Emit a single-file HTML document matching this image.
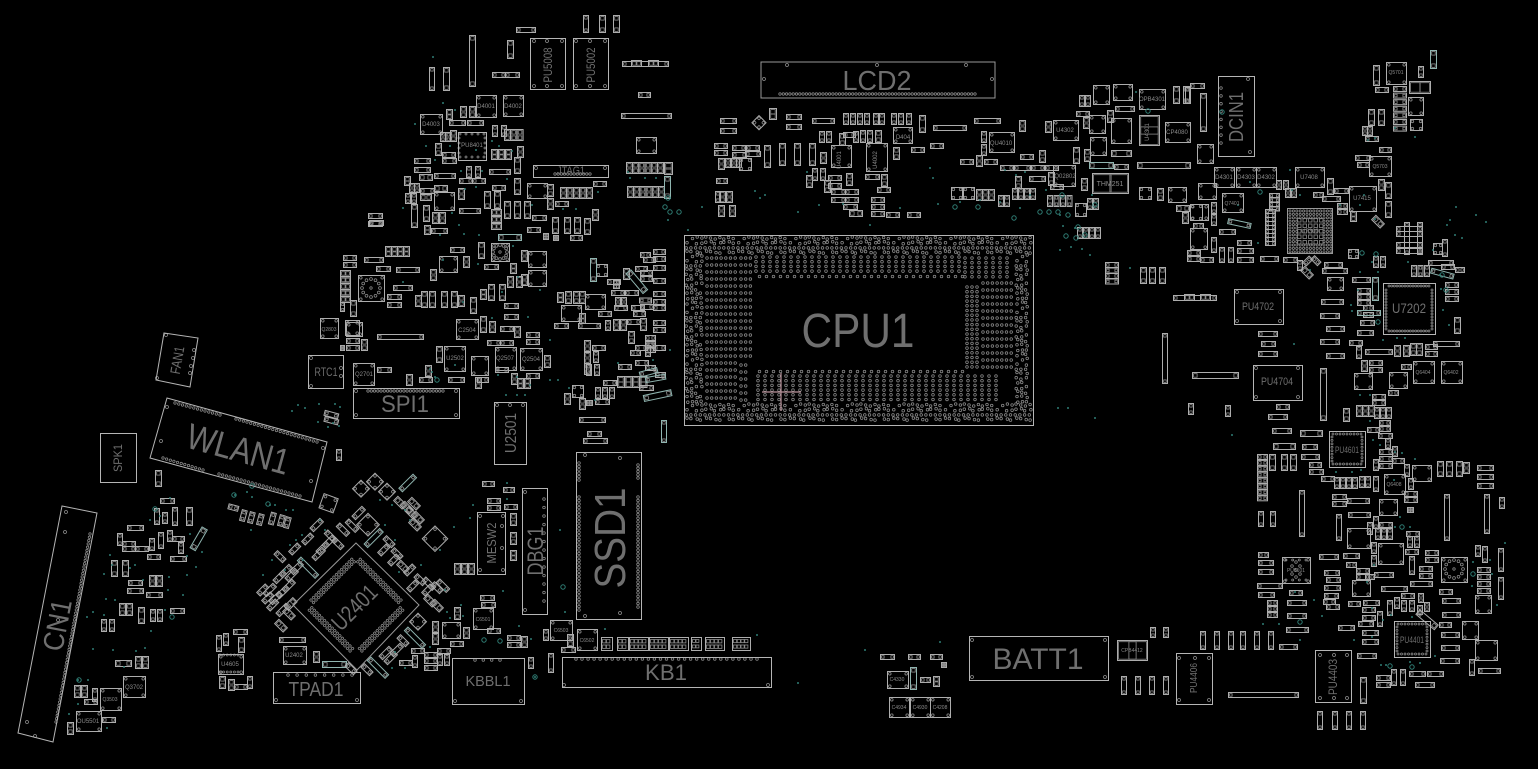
<!DOCTYPE html>
<html><head><meta charset="utf-8"><title>Board view</title>
<style>
html,body{margin:0;padding:0;background:#000;width:1538px;height:769px;overflow:hidden}
svg{display:block}
text{font-family:"Liberation Sans",sans-serif;fill:#6f6f6f;text-anchor:middle}
.s{fill:#8a8a8a}
</style></head><body>
<svg id="b" xmlns="http://www.w3.org/2000/svg" width="1538" height="769" viewBox="0 0 1538 769">
<g id="art"></g>
<g fill="none" stroke="#b5b5b5">
<rect x="684.5" y="235.5" width="349" height="190"/>
<rect x="761" y="62" width="234" height="36" stroke="#999"/>
<rect x="353.5" y="388.5" width="106" height="30"/>
<rect x="576.5" y="452.5" width="65" height="167"/>
<rect x="494.5" y="402.5" width="32" height="62"/>
<rect x="522.5" y="488.5" width="25" height="126"/>
<rect x="477.5" y="512.5" width="28" height="62"/>
<rect x="562.5" y="657.5" width="209" height="30"/>
<rect x="452.5" y="658.5" width="72" height="46"/>
<rect x="273.5" y="672.5" width="87" height="31"/>
<rect x="969.5" y="636.5" width="139" height="44"/>
<rect x="308.5" y="355.5" width="35" height="33"/>
<rect x="100.5" y="433.5" width="36" height="49"/>
<rect x="1218.5" y="76.5" width="36" height="80"/>
<rect x="530.5" y="38.5" width="35" height="51"/>
<rect x="573.5" y="38.5" width="35" height="51"/>
<rect x="533.5" y="165.5" width="75" height="12"/>
<rect x="458.5" y="132.5" width="28" height="28"/>
<rect x="1383.5" y="283.5" width="52" height="51"/>
<rect x="1234.5" y="289.5" width="49" height="35"/>
<rect x="1253.5" y="365.5" width="49" height="35"/>
<rect x="1329.5" y="431.5" width="36" height="36"/>
<rect x="1394.5" y="621.5" width="36" height="36"/>
<rect x="1315.5" y="650.5" width="36" height="52"/>
<rect x="1176.5" y="653.5" width="36" height="51"/>
<polygon points="167,398 327,442 312,502 150,458"/>
<polygon points="164,333 198,338 190,387 156,380"/>
<polygon points="62,506 97,513 53,742 18,733"/>
<polygon points="356,543 419,605 357,670 293,605" stroke="#999"/>
</g>
<path d="M762 392H801M781 373V411" stroke="#b9939b" stroke-width="1.2"/>
<g id="over"></g>
<text x="858" y="347" font-size="48" textLength="113" lengthAdjust="spacingAndGlyphs">CPU1</text>
<text x="877" y="90" font-size="28" textLength="69" lengthAdjust="spacingAndGlyphs">LCD2</text>
<text x="405" y="412" font-size="24" textLength="48" lengthAdjust="spacingAndGlyphs">SPI1</text>
<text x="666" y="680" font-size="22" textLength="42" lengthAdjust="spacingAndGlyphs">KB1</text>
<text x="488" y="686" font-size="15" textLength="45" lengthAdjust="spacingAndGlyphs">KBBL1</text>
<text x="316" y="696" font-size="20" textLength="55" lengthAdjust="spacingAndGlyphs">TPAD1</text>
<text x="1038" y="669" font-size="30" textLength="91" lengthAdjust="spacingAndGlyphs">BATT1</text>
<text x="326" y="376" font-size="12" textLength="23" lengthAdjust="spacingAndGlyphs">RTC1</text>
<text transform="translate(1243,117) rotate(-90)" font-size="20" textLength="50" lengthAdjust="spacingAndGlyphs">DCIN1</text>
<text transform="translate(625,538) rotate(-90)" font-size="44" textLength="101" lengthAdjust="spacingAndGlyphs">SSD1</text>
<text transform="translate(516,433) rotate(-90)" font-size="16" textLength="40" lengthAdjust="spacingAndGlyphs">U2501</text>
<text transform="translate(543,551) rotate(-90)" font-size="22" textLength="49" lengthAdjust="spacingAndGlyphs">DBG1</text>
<text transform="translate(496,543) rotate(-90)" font-size="13" textLength="41" lengthAdjust="spacingAndGlyphs">MESW2</text>
<text transform="translate(122,458) rotate(-90)" font-size="12" textLength="28" lengthAdjust="spacingAndGlyphs">SPK1</text>
<text transform="translate(182,361) rotate(-80)" font-size="14" textLength="28" lengthAdjust="spacingAndGlyphs">FAN1</text>
<text transform="translate(235,461) rotate(15.5)" font-size="36" textLength="105" lengthAdjust="spacingAndGlyphs">WLAN1</text>
<text transform="translate(67,627) rotate(-79)" font-size="29" textLength="52" lengthAdjust="spacingAndGlyphs">CN1</text>
<text transform="translate(360,613) rotate(-45)" font-size="23" textLength="54" lengthAdjust="spacingAndGlyphs">U2401</text>
<text transform="translate(552,65) rotate(-90)" font-size="12" textLength="35" lengthAdjust="spacingAndGlyphs">PU5008</text>
<text transform="translate(595,65) rotate(-90)" font-size="12" textLength="35" lengthAdjust="spacingAndGlyphs">PU5002</text>
<text transform="translate(1337,677) rotate(-90)" font-size="12" textLength="36" lengthAdjust="spacingAndGlyphs">PU4403</text>
<text transform="translate(1197,678) rotate(-90)" font-size="10" textLength="30" lengthAdjust="spacingAndGlyphs">PU4406</text>
<text x="571" y="174" font-size="11" textLength="28" lengthAdjust="spacingAndGlyphs">JTAG1</text>
<text x="1409" y="313" font-size="14" textLength="34" lengthAdjust="spacingAndGlyphs">U7202</text>
<text x="1258" y="310" font-size="11" textLength="32" lengthAdjust="spacingAndGlyphs">PU4702</text>
<text x="1277" y="385" font-size="11" textLength="32" lengthAdjust="spacingAndGlyphs">PU4704</text>
<text x="1347" y="453" font-size="9" textLength="24" lengthAdjust="spacingAndGlyphs">PU4601</text>
<text x="1412" y="643" font-size="9" textLength="24" lengthAdjust="spacingAndGlyphs">PU4401</text>
<g class="t">
<text class="s" x="486" y="108" font-size="6">D4001</text>
<text class="s" x="513" y="108" font-size="6">D4002</text>
<text class="s" x="431" y="126" font-size="6">D4003</text>
<text class="s" x="472" y="147" font-size="6">PU8401</text>
<text class="s" x="467" y="332" font-size="6">C2504</text>
<text class="s" x="455" y="360" font-size="6">U2502</text>
<text class="s" x="505" y="360" font-size="6">Q2507</text>
<text class="s" x="531" y="361" font-size="6">Q2504</text>
<text class="s" x="364" y="376" font-size="6">Q2701</text>
<text class="s" x="329" y="331" font-size="5">Q2803</text>
<text class="s" x="294" y="657" font-size="6">U2402</text>
<text class="s" x="230" y="666" font-size="6">U4605</text>
<text class="s" x="483" y="621" font-size="5">C6501</text>
<text class="s" x="134" y="689" font-size="6">Q3702</text>
<text class="s" x="110" y="701" font-size="5">Q3503</text>
<text class="s" x="88" y="723" font-size="6">OU5501</text>
<text class="s" x="561" y="632" font-size="5">C6503</text>
<text class="s" x="587" y="642" font-size="5">C6502</text>
<text class="s" x="903" y="139" font-size="6">D404</text>
<text class="s" x="1001" y="145" font-size="6">QU4010</text>
<text class="s" x="1065" y="178" font-size="6">Q02802</text>
<text class="s" x="1110" y="186" font-size="7">THM251</text>
<text class="s" x="1065" y="132" font-size="6">U4302</text>
<text class="s" x="1152" y="101" font-size="6">OPB4301</text>
<text class="s" x="1177" y="134" font-size="6">CP4080</text>
<text class="s" x="1224" y="179" font-size="6">D4301</text>
<text class="s" x="1246" y="179" font-size="6">D4303</text>
<text class="s" x="1266" y="179" font-size="6">D4302</text>
<text class="s" x="1309" y="179" font-size="6">U7408</text>
<text class="s" x="1362" y="200" font-size="6">U7415</text>
<text class="s" x="1232" y="205" font-size="5">Q7401</text>
<text class="s" x="1310" y="233" font-size="6">U7300</text>
<text class="s" x="1380" y="168" font-size="5">Q5703</text>
<text class="s" x="1396" y="74" font-size="5">Q5701</text>
<text class="s" x="1423" y="374" font-size="5">Q6404</text>
<text class="s" x="1451" y="374" font-size="5">Q6402</text>
<text class="s" x="1394" y="486" font-size="5">Q6408</text>
<text class="s" x="1296" y="572" font-size="5">PU5101</text>
<text class="s" x="1132" y="652" font-size="5">CPB4412</text>
<text class="s" x="897" y="681" font-size="5">C4330</text>
<text class="s" x="899" y="709" font-size="5">C4934</text>
<text class="s" x="920" y="709" font-size="5">C4930</text>
<text class="s" x="940" y="709" font-size="5">C4208</text>
<text class="s" x="841" y="160" font-size="6" transform="rotate(-90 841 160)">U4001</text>
<text class="s" x="877" y="160" font-size="6" transform="rotate(-90 877 160)">U4002</text>
<text class="s" x="1149" y="132" font-size="6" transform="rotate(-90 1149 132)">U4301</text>
</g>
</svg>
<script>
var A=document.getElementById('art'),S='';
var G='#adadad';
function pad(x,y,s,c){return '<rect x="'+x+'" y="'+y+'" width="'+s+'" height="'+s+'" fill="none" stroke="'+c+'" stroke-width=".8"/>'}
function hole(x,y,c,r){return '<circle cx="'+x+'" cy="'+y+'" r="'+(r||1.3)+'" fill="none" stroke="'+c+'" stroke-width=".8"/>'}
function part(x,y,w,h,c){
 c=c||G;var o='<rect x="'+(x+.5)+'" y="'+(y+.5)+'" width="'+w+'" height="'+h+'" fill="none" stroke="'+c+'"/>';
 var cp='#8d8d8d';
 if(w>=h*1.5){var s=Math.max(h-2.5,2);o+=pad(x+1.6,y+1.7,s,cp)+pad(x+w-s-.6,y+1.7,s,cp)}
 else if(h>=w*1.5){var s=Math.max(w-2.5,2);o+=pad(x+1.7,y+1.6,s,cp)+pad(x+1.7,y+h-s-.6,s,cp)}
 else{var k=w>=14?2.8:2.4;o+=hole(x+k,y+k,cp)+hole(x+w-k+1,y+k,cp)+hole(x+k,y+h-k+1,cp)+hole(x+w-k+1,y+h-k+1,cp)}
 return o}
function L(s,c){s.trim().split(/\s+/).forEach(function(i){var a=i.split(',').map(Number),n=a[4]||1;for(var k=0;k<n;k++)S+=part(a[0]+k*(a[5]||0),a[1]+k*(a[6]||0),a[2],a[3],c)})}
function R(s,c){s.trim().split(/\s+/).forEach(function(i){var a=i.split(',').map(Number);S+='<g transform="translate('+a[0]+','+a[1]+') rotate('+a[4]+')">'+part(-a[2]/2,-a[3]/2,a[2],a[3],c)+'</g>'})}
function D(s){s.trim().split(/\s+/).forEach(function(i){var a=i.split(',');S+='<circle cx="'+a[0]+'" cy="'+a[1]+'" r="1" fill="#2f7d74"/>'})}
function Ring(s){s.trim().split(/\s+/).forEach(function(i){var a=i.split(',');S+='<circle cx="'+a[0]+'" cy="'+a[1]+'" r="2.2" fill="none" stroke="#2f7d74"/>'})}
function dot(x,y,r,c){S+='<circle cx="'+x.toFixed(1)+'" cy="'+y.toFixed(1)+'" r="'+(r||1.3)+'" fill="none" stroke="'+(c||'#8f8f8f')+'" stroke-width=".75"/>'}
function row(x0,y0,x1,y1,n,r){for(var i=0;i<n;i++)dot(x0+(x1-x0)*i/(n-1),y0+(y1-y0)*i/(n-1),r)}
/* CPU BGA */
var i,j,x,y;
function h(a,b){return (a*73+b*151+a*b*7)%11}
function band(x0,x1,y0,y1){for(var a=0,yy=y0;yy<=y1;yy+=4.7,a++)for(var b=0,xx=x0;xx<=x1;xx+=4.7,b++){var q=h(a,b);if(q==0)continue;dot(xx+(q%3-1)*.8,yy+(q%5-2)*.5)}}
band(687,1031,238,253);band(687,1031,405,422);band(687,703,256,403);band(1017,1031,256,403);
for(y=258;y<=400;y+=7)for(x=707;x<=737;x+=4.7)dot(x,y);
for(y=286;y<=358;y+=7)for(x=741;x<=755;x+=4.7)dot(x,y);
for(y=365;y<=400;y+=7)for(x=741;x<=748;x+=4.7)dot(x,y);
for(y=258;y<=282;y+=7)for(x=741;x<=751;x+=4.7)dot(x,y);
for(x=756;x<=960;x+=7)for(y=257;y<=272;y+=4.7)dot(x,y);
for(x=756;x<=960;x+=7)dot(x+3.5,276.5);
for(x=756;x<=960;x+=7)dot(x+3.5,371.5);
for(x=758;x<=1000;x+=7)for(y=376;y<=401;y+=4.7)dot(x,y);
for(y=287;y<=368;y+=4.7){dot(967,y);dot(972,y);dot(977,y)}
for(y=283;y<=372;y+=7)for(x=983;x<=1013;x+=4.7)dot(x,y);
for(x=965;x<=1010;x+=7)for(y=258;y<=278;y+=4.7)dot(x,y);
/* U7300 BGA */
S+='<rect x="1287.5" y="208.5" width="45" height="45" fill="none" stroke="#999"/>';
for(x=1290;x<=1331;x+=3.4)for(y=211;y<=252;y+=3.4){var e=Math.min(x-1287,1333-x,y-208,254-y);if(e<11)dot(x,y,1.1)}
for(x=1299;x<=1322;x+=5.5)for(y=220;y<=243;y+=5.5)S+=pad(x-1.5,y-1.5,3.5,'#8d8d8d');
/* U2401 */
S+='<g transform="translate(356,606) rotate(45)">';
for(var t=-30;t<=30;t+=3.6){[[t,-36],[t,-32.5],[t,32.5],[t,36],[-36,t],[-32.5,t],[32.5,t],[36,t]].forEach(function(p){dot(p[0],p[1],1.2)})}
S+='</g>';
/* connector pads */
row(780,94,975,94,60,1.2);row(368,391,443,391,24,1.2);
row(175,403,220,415,13,1.2);row(236,419,317,442,23,1.2);row(163,458,203,470,12,1.2);row(219,474,300,496,23,1.2);
row(90,534,56,722,58,1.2);
row(576,659,757,659,31);row(475,660,500,660,4);row(288,675,352,675,8);
row(1221,88,1221,143,8);
row(579,463,579,480,6);row(579,497,579,610,33);row(638,465,638,478,5);row(638,497,638,607,32);
row(544,499,544,601,13);
row(555,174,590,174,12,1.2);
row(1286,560,1306,560,4,1);row(1286,580,1306,580,4,1);
[[1292,566],[1300,566],[1296,562],[1292,574],[1300,574],[1296,577],[1296,570]].forEach(function(p){dot(p[0],p[1],1.3)});
[[787,65],[877,65],[966,65],[764,79],[992,79],[356,391],[456,391],[356,415],[456,415],[497,405],[510,405],[523,405],[276,700],[357,700],[455,701],[521,701],[564,685],[768,685],[972,677],[1105,677],[972,640],[1105,640],[1248,79],[1250,152],[534,41],[547,41],[562,41],[576,41],[590,41],[605,41],[534,86],[547,86],[562,86],[576,86],[590,86],[605,86],[536,168],[605,168],[480,516],[503,516],[480,570],[503,570],[502,526],[502,548],[525,492],[525,610],[585,455],[620,458],[585,616],[620,613],[166,335],[157,378],[194,350],[193,358],[191,366],[190,373],[66,512],[27,722],[58,620],[65,532],[35,736],[167,407],[161,441],[323,448],[311,481],[311,358],[311,386],[341,368],[341,376],[1320,655],[1334,655],[1347,655],[1320,698],[1334,698],[1347,698],[1179,658],[1195,658],[1209,658],[1179,700],[1209,700],[1237,292],[1280,292],[1237,321],[1280,321],[1256,368],[1298,368],[1256,397],[1298,397]].forEach(function(p){dot(p[0],p[1],1.5)});
/* IC edge pins */
row(1389,286,1429,286,16,1);row(1389,331,1429,331,16,1);row(1386,290,1386,329,14,1);row(1432,290,1432,329,14,1);
row(1333,434,1361,434,9,1);row(1333,464,1361,464,9,1);row(1332,437,1332,461,8,1);row(1362,437,1362,461,8,1);
row(1398,624,1426,624,9,1);row(1398,654,1426,654,9,1);row(1397,627,1397,651,8,1);row(1427,627,1427,651,8,1);
row(460,134,484,134,5,1);row(460,157,484,157,5,1);row(459,138,459,153,4,1);row(485,138,485,153,4,1);
row(220,655,238,655,6,1);row(220,672,238,672,6,1);
/* keyboard row blocks */
[[601,11,2],[617,11,2],[629,19,4],[649,19,4],[669,19,4],[691,10,2],[705,19,4],[732,18,4]].forEach(function(b){
 S+='<rect x="'+(b[0]+.5)+'" y="637.5" width="'+b[1]+'" height="13" fill="none" stroke="#adadad"/>';
 for(var k=0;k<b[2];k++){var px=b[0]+1.5+k*(b[1]-3)/b[2];var sz=(b[1]-3)/b[2]-.6;S+=pad(px,639.5,sz,'#8d8d8d')+pad(px,645,sz,'#8d8d8d')}
});
/* parts */
L(`516,27,19,5 583,15,5,17 599,15,6,17 613,15,6,17 429,67,5,23 443,67,6,23 469,35,6,51 507,40,6,18 492,72,13,5 505,72,14,5 622,61,46,5 631,60,10,6 648,60,10,6 638,92,12,5 621,113,50,5
476,95,20,22 503,95,20,21 420,114,22,20 446,109,6,10 460,106,6,11 469,106,6,11 449,120,16,5 467,120,16,5 440,132,5,9,2,5.5,0 450,130,6,11 435,143,6,12 414,158,16,5 414,167,16,5 419,174,13,6 442,152,13,5 442,158,14,5 434,173,21,5 404,176,6,9 409,183,5,9,2,5,0 420,188,14,5 420,194,11,6 434,185,13,6 405,193,5,10,2,6,0 434,192,20,18 458,188,6,11 423,205,6,16 411,204,6,23 432,212,6,11 439,212,6,11 424,225,6,9 431,228,16,5 459,208,21,5 466,166,5,11 475,166,5,11 459,178,13,5 472,178,13,5 489,169,21,5 492,185,13,5 484,191,6,17 494,191,6,17 491,209,10,6,3,0,7 504,201,6,17 514,201,6,17 524,201,6,17 514,157,6,16 514,178,6,16 517,146,6,11 492,125,5,11 501,125,5,11 504,129,6,11,3,6.3,0 491,149,6,10,3,7,0 527,183,20,15 547,184,6,12 547,198,6,11 555,201,13,5 560,187,6,11,5,6.5,0 593,181,13,5 592,209,6,11 532,215,14,5 552,217,6,16 564,217,6,16 574,217,6,16 584,218,6,16 527,227,13,5 543,233,5,6 553,235,5,5 570,235,12,5 636,137,20,16 626,162,6,11,6,6.2,0 627,186,6,11,6,6.2,0 664,162,8,12 368,213,14,5 368,221,14,5
369,220,14,5 343,255,13,5 343,262,13,5 364,257,19,5 376,266,14,5 396,267,23,5 385,246,6,10,4,6,0 340,270,10,6,5,0,6.5 358,275,26,26 393,285,19,5 387,294,14,5 387,302,14,5 415,295,6,11 421,291,6,16 429,291,6,16 441,291,6,16 451,291,6,16 458,295,6,11 350,300,6,16 340,302,4,9 430,269,6,11 450,247,14,5 439,256,18,16 463,256,6,11 478,242,6,16 491,243,18,18 484,264,14,5 510,263,6,10 521,250,6,11 528,251,18,16 528,270,18,16 521,274,6,11 507,276,6,11 516,276,6,11 480,289,6,10 488,284,6,16 499,284,6,16 504,303,14,5 504,314,14,5 470,297,6,16 456,319,22,20 480,316,6,16 489,321,6,11 500,326,13,5 514,326,6,11 526,332,13,5 526,339,13,5 487,340,13,5 500,340,13,5 377,334,46,5 346,322,16,14 346,338,13,5 346,345,13,5 361,339,6,11 340,345,4,5 353,363,21,22 377,367,14,5 436,346,6,16 444,346,21,25 425,365,6,11 406,374,6,11 419,377,13,5 448,377,16,5 471,356,17,19 495,347,21,23 520,348,22,22 544,355,6,12 495,367,13,5 475,377,6,11 477,377,11,5 511,373,6,11 517,378,6,10 524,378,6,10 526,373,13,5 557,292,6,10 565,291,6,12 573,291,6,12 579,291,6,12 585,294,20,15 561,305,20,16 554,323,14,5 579,313,6,10 578,323,22,5 320,318,18,20 345,320,14,15
653,249,12,5 653,256,12,5 653,265,12,5 653,278,12,5 653,291,12,5 653,299,12,5 653,305,12,5 653,320,12,5 653,327,12,5 640,252,10,5 643,257,12,5 635,266,12,5 640,270,12,5 640,276,12,5 596,264,11,12 607,279,13,5 613,280,6,8 623,268,6,11 611,290,13,5 625,290,13,5 615,297,5,9 621,297,5,9 614,305,13,5 631,305,13,5 640,304,13,5 633,311,12,5 598,311,13,5 605,320,5,10 613,319,6,11 620,319,6,11 627,319,13,5 640,318,6,12 628,331,6,12 645,335,10,5,3,0,6 635,345,12,5 630,350,10,5 645,345,5,11 653,345,12,5 584,340,6,11 584,352,6,11 584,363,6,11 592,345,13,5 593,351,5,11 586,364,5,11 594,364,5,11 618,364,13,5 635,360,13,5 617,376,7,11,4,7.5,0 603,380,13,5 595,387,5,11,3,7,0 595,399,14,5 572,385,11,12 564,393,6,11 579,398,6,11 586,400,6,5 579,417,26,5 587,431,14,5 583,438,24,5 639,385,14,5 645,365,10,5 655,372,10,5
769,108,7,11 720,118,16,5 720,128,16,5 786,114,15,5 786,124,15,5 812,118,22,5 843,113,5,11 850,113,5,11 857,113,5,11 864,113,5,11 873,113,5,11 879,113,5,11 891,113,5,11 898,113,5,11 906,113,5,11 919,115,6,17 933,125,33,5 974,118,26,5 1019,120,6,11 714,143,13,5 714,150,13,5 732,145,13,5 746,145,13,5 732,152,14,5 745,151,15,5 718,158,6,11 725,158,5,9 731,158,5,9 736,158,5,9 739,158,12,12 764,145,6,22 779,143,6,22 794,143,6,22 809,143,6,22 820,152,6,11 819,131,5,11 826,131,5,11 839,133,6,12 843,132,12,5 853,131,5,11 860,130,5,12 867,130,5,12 875,130,6,12 893,127,19,16 831,145,20,22 866,143,21,28 893,147,6,12 911,147,13,5 930,143,13,5 812,168,5,12 806,175,6,12 820,168,5,12 824,180,6,12 828,175,13,5 828,183,13,5 846,173,6,12 831,189,14,5 845,189,13,5 831,197,14,5 845,197,13,5 843,204,14,5 849,210,13,6 865,174,14,5 881,174,6,12 877,187,13,5 871,197,13,5 871,204,13,5 871,211,13,5 886,212,13,5 907,212,13,5 716,178,11,5 719,191,6,11 726,191,6,11 715,191,5,11 718,205,6,11 729,205,6,11
981,131,5,11 981,144,5,11 989,132,25,20 960,159,13,5 976,155,6,11 984,159,13,5 1020,154,13,5 1039,150,6,12 1000,165,13,5 1014,165,16,5 1031,165,13,5 1045,165,13,5 1015,176,6,12 1029,176,16,5 1048,172,6,13 1050,184,13,5 1053,165,22,21 951,187,11,12 963,187,11,12 976,189,6,11,3,6,0 998,195,5,11,2,6,0 1012,188,5,11,4,6,0 1047,195,5,11,4,6.5,0 1075,203,11,13 1087,198,5,11,2,6,0 1077,227,5,11,4,6,0 1045,121,6,11 1053,120,25,20 1079,95,5,11,2,6,0 1076,111,13,5 1083,117,6,11 1093,85,16,19 1113,84,19,16 1139,89,26,20 1173,86,6,17 1183,86,6,17 1190,83,14,5 1089,115,16,18 1107,110,6,12 1111,118,20,25 1115,106,19,5 1139,115,20,30 1165,122,25,20 1090,137,16,18 1073,147,6,16 1084,149,6,12 1111,150,20,6 1114,164,14,5 1137,162,53,6 1081,178,6,12 1092,173,36,20 1139,187,12,12 1157,188,6,12 1168,187,18,15 1176,205,13,6 1182,212,6,11 1190,204,12,16
1200,93,6,38 1197,144,16,19 1214,167,20,20 1236,167,20,20 1256,167,20,20 1276,180,5,9 1283,180,5,9 1285,188,5,9 1291,188,5,9 1295,167,29,20 1327,178,6,16 1334,188,14,5 1313,192,10,5 1322,196,18,5 1337,203,10,5 1337,209,10,5 1349,186,27,25 1350,211,6,10 1378,179,6,11 1385,182,6,16 1385,201,6,16 1355,155,15,5 1357,162,12,5 1369,156,22,20 1379,147,12,5 1365,136,13,5 1362,126,5,9 1367,126,5,9 1368,109,6,16 1378,109,6,16 1393,86,13,5,7,0,6.6 1386,62,20,22 1373,65,6,20 1375,87,13,5 1409,81,21,12 1408,97,15,18 1410,119,12,11 1418,66,5,11 1185,87,5,16 1198,183,18,16 1222,193,21,19 1269,193,10,4,4,0,4.5 1265,209,10,4,9,0,4 1190,204,18,16 1211,202,5,11 1211,214,5,11 1193,223,10,5 1190,228,17,21 1219,229,16,5 1211,237,5,15 1219,247,5,15 1228,247,5,15 1237,240,14,5 1237,248,16,5 1237,257,16,5 1260,256,18,5 1283,257,14,5 1297,260,5,10 1187,250,13,5 1187,256,13,5 1200,257,13,5 1348,249,10,9 1373,256,5,11 1380,256,5,11 1324,262,18,5 1322,268,25,5 1327,277,16,13 1352,277,18,5 1357,288,13,5 1357,294,13,5 1357,300,13,5 1363,305,10,5 1363,312,10,5 1360,320,14,5 1321,299,22,5 1320,313,19,5 1326,326,18,5 1320,339,19,5 1326,353,18,5 1258,331,19,5 1261,341,14,5 1258,351,19,5 1173,295,43,5 1184,294,10,6 1200,294,10,6 1357,330,16,5 1349,340,13,5 1356,346,5,12 1365,349,27,5 1394,345,6,11 1403,345,6,11 1410,343,6,12 1416,343,6,12 1425,344,12,5 1425,351,12,5 1433,341,26,5 1404,222,5,32 1417,222,5,32 1396,226,26,5 1396,231,26,5 1396,242,26,5 1396,248,26,5 1433,243,9,11 1442,239,5,17 1428,260,25,5 1441,264,13,5 1455,267,9,5 1411,265,5,11,3,6.5,0 1445,282,13,5 1445,289,13,5 1445,296,13,5 1454,317,6,16 1162,333,5,50 1140,267,6,16 1149,267,6,16 1159,267,6,16 1105,262,13,5,4,0,5.5 1188,403,5,11 1225,405,5,11
1192,372,46,6 1320,368,6,52 1354,373,18,16 1389,372,18,16 1361,360,6,11 1369,360,13,5 1369,367,13,5 1401,364,10,5 1413,361,21,22 1441,361,21,22 1388,390,10,5 1372,394,13,5 1372,400,13,5 1343,408,6,13 1356,405,6,11,3,6,0 1374,407,5,11,3,6,0 1379,420,11,5 1379,426,11,5 1367,427,12,5 1378,433,14,5 1385,438,5,10 1379,449,13,5 1379,456,13,5 1379,463,13,5 1392,446,5,10 1392,458,12,5 1373,459,5,11 1404,464,5,12 1412,465,19,16 1384,474,21,20 1408,478,5,11 1404,491,13,5 1404,497,13,5 1407,507,6,5 1437,461,6,15 1446,461,6,15 1456,461,6,15 1463,462,6,11 1477,465,16,5 1477,474,16,5 1477,483,16,5 1373,476,5,15 1334,477,5,11,4,6,0 1359,476,5,11,2,6,0 1321,476,13,5 1332,494,14,5 1332,501,14,5 1347,498,22,5 1379,499,18,16 1348,512,22,5 1336,514,5,26 1373,516,5,12 1367,522,5,12 1379,522,13,5 1375,528,5,11,3,6,0 1347,528,23,20 1371,542,5,11 1371,555,5,11 1378,543,25,21 1406,531,13,5 1407,536,5,11 1414,536,5,11 1405,549,13,5 1425,550,13,5 1425,557,13,5 1409,556,5,18 1419,566,13,5 1419,573,13,5 1441,557,26,25 1475,545,5,11 1482,546,5,16 1498,548,5,23 1498,577,5,22 1477,567,13,5,4,0,7 1475,595,16,18 1444,494,5,46 1484,494,5,39 1499,497,5,11 1299,490,5,46 1257,454,10,5,8,0,5.9 1269,454,6,16 1281,454,6,16 1290,454,6,16 1258,511,5,15 1270,511,5,15 1276,404,13,5 1268,414,19,5 1272,428,19,5 1273,443,22,6 1300,430,22,6 1302,444,15,5 1301,454,18,5 1309,462,12,5 1309,469,14,5 1282,557,28,26 1258,552,10,5 1258,560,15,5 1258,569,15,5 1257,583,25,5 1258,592,16,5 1267,600,10,5,3,0,6 1289,590,13,5 1287,600,19,5 1287,613,19,5 1286,627,22,5 1279,644,18,5 1200,631,5,18 1214,631,5,18 1228,631,5,18 1240,631,5,18 1254,631,5,18 1268,631,5,18 1319,554,19,5 1324,570,15,5 1326,577,14,5 1324,585,16,5 1324,593,14,5 1323,599,12,5 1326,604,13,5 1343,553,16,5 1346,562,10,5 1356,568,13,5 1356,574,13,5 1365,574,9,5 1374,572,19,5 1352,580,18,16 1381,586,26,5 1410,581,22,5 1348,601,12,5 1363,600,16,5 1362,607,13,5 1362,615,13,5 1387,600,5,15 1377,611,5,15 1358,621,15,5 1338,625,16,5 1362,630,16,5 1362,639,16,5 1357,653,19,5 1394,597,5,11 1401,600,5,11 1409,600,5,11 1401,593,13,5 1417,605,5,9 1418,593,5,9 1424,602,5,9 1439,622,12,5 1441,632,18,5 1441,645,18,5 1440,658,19,5 1442,598,18,5 1442,612,18,5 1439,589,13,5 1462,621,16,18 1475,640,22,20 1469,659,5,16 1478,668,22,5 1391,669,5,16 1400,669,5,16 1376,675,14,5 1376,682,14,5 1409,671,16,5 1427,671,16,5 1415,682,19,5 1360,677,6,26 1317,711,5,18 1332,711,5,18 1346,711,5,18 1360,711,5,18 1228,692,70,5
1121,676,5,18 1135,676,5,18 1149,676,5,18 1163,676,5,18 1150,627,5,10 1163,627,5,10 1117,640,30,20 889,697,20,20 910,697,20,20 930,697,20,20 887,671,21,17 920,677,10,5 933,676,6,10 908,654,12,5 880,654,14,5 930,654,12,5 941,662,5,5 550,620,22,20 577,629,20,21 543,629,5,11 567,634,6,12 561,647,14,5 507,635,13,5 507,642,13,5 521,636,6,11 528,657,5,11 548,653,5,19
283,646,23,18 313,651,6,11 279,637,26,5 218,654,25,20 216,635,5,16 223,633,5,12 233,629,14,5 238,637,6,15 219,676,6,12 228,679,6,11 234,684,13,5 247,676,5,12 432,621,6,11 432,633,6,11 442,622,18,16 463,627,6,11 450,641,13,5 411,648,13,5 399,660,13,5 412,655,5,12 424,652,13,5 424,658,13,5 424,665,13,5 437,648,13,5 437,654,5,11 444,654,5,11 454,607,6,12 480,595,14,5 481,602,14,5 473,608,20,21 487,628,13,5 454,563,6,11,3,7,0 487,498,13,5 487,505,13,5 482,481,12,5 503,487,11,5 504,504,13,5 510,513,6,12 510,532,6,12 510,550,6,10 336,449,5,11
160,498,14,5 154,508,5,16 162,512,5,11 172,507,5,18 186,507,6,18 127,525,16,5 117,533,5,12 122,541,13,5 122,546,13,5 135,546,13,5 149,538,5,12 158,532,5,16 167,530,5,11 172,536,12,5 178,542,5,11 147,554,13,5 170,556,16,5 111,560,6,16 122,560,6,16 128,580,14,5 127,588,16,5 149,575,6,11 156,575,6,11 146,592,16,5 119,603,6,12 126,603,6,12 138,607,6,16 150,609,5,12 157,609,5,12 170,608,14,5 101,619,5,12 109,619,5,12 115,660,16,6 135,656,6,12 142,656,6,12 123,676,22,21 100,688,21,22 74,685,6,12 81,685,6,12 92,688,5,13 84,699,13,5 76,711,25,20 102,717,13,5 67,722,6,12 155,470,6,16`);
L(`664,176,6,22 498,234,23,6 590,258,6,23 661,420,5,22 1089,162,24,6 1430,50,6,18 1372,277,6,23 1357,310,23,5 322,661,24,6 910,667,6,22`,'#8fb5b0');
R(`759,122,10,10,45 331,414,14,5,15 331,420,14,5,15 358,513,14,5,-45 316,525,14,5,-45 307,539,12,5,-45 294,549,12,5,-45 383,550,12,5,-45 429,583,14,5,45 343,529,14,5,45 352,525,14,5,45 389,541,12,5,45 280,556,12,5,45 361,488,12,12,45 375,481,12,12,45 387,491,12,12,45 368,524,16,16,45 435,538,18,18,45 418,621,12,12,45 400,502,12,6,45 407,507,12,6,45 414,503,12,6,45 411,512,12,6,45 418,517,12,6,45 415,524,12,6,45 397,553,12,5,45 393,560,12,5,-45 403,566,12,6,45 409,570,12,5,-45 412,586,12,5,-45 437,587,12,5,45 427,590,12,5,-45 420,579,12,5,45 430,600,12,6,45 437,605,12,6,45 443,585,14,5,45 403,640,12,5,45 390,658,14,5,-45 385,653,14,5,-45 396,650,14,5,-45 367,669,12,5,45 351,668,12,5,45 328,542,14,5,-45 322,548,14,5,-45 318,554,14,5,-45 331,536,14,5,45 338,543,12,5,45 288,586,14,5,-45 282,592,14,5,-45 275,598,14,5,-45 269,590,14,5,-45 262,590,12,5,-45 267,598,12,5,-45 272,605,12,5,-45 279,577,14,5,-45 285,571,14,5,-45 291,575,14,5,-45 296,568,14,5,-45 282,610,14,5,-45 289,613,12,6,45 290,604,12,6,-45 281,625,12,6,45 233,507,10,5,15 243,515,5,11,15 251,517,5,11,15 260,519,5,11,15 272,518,5,12,15 281,520,5,11,15 287,522,5,11,15 1378,221,12,6,45 1307,261,9,5,-45 1316,260,9,5,45 1307,272,12,6,45 1427,619,24,6,40 645,300,12,5,0 650,345,10,5,0`);
S+='<g transform="translate(328,502) rotate(20)">'+part(-7,-7,15,15)+'</g>';
R(`637,281,26,6,50 658,395,6,28,78 1239,223,23,5,12 1442,273,23,5,15 407,483,20,5,-45 373,538,22,5,-45 415,637,25,5,45 378,667,25,5,45 308,567,25,5,45 198,539,24,6,-60 648,372,18,5,-15 655,378,20,5,-10`,'#8fb5b0');
/* small QFN ring */
[[371,288,9],[1454,569,9],[500,252,7]].forEach(function(q){for(var a=0;a<12;a++)dot(q[0]+q[2]*Math.cos(a*Math.PI/6),q[1]+q[2]*Math.sin(a*Math.PI/6),1.4);dot(q[0],q[1],1.2)});
/* vias */
D(`433,57 443,103 415,124 455,110 426,146 450,146 492,141 499,146 512,151 476,150 435,160 461,171 482,171 507,179 465,189 476,187 403,208 452,213 459,225 479,235 464,234 532,205 563,209 576,209 598,192 630,178 645,178 656,178 628,172 668,220 688,230 702,207 765,195 807,172 755,191 760,198 798,212 819,205 843,204 900,208 870,225 938,204 930,168 933,178 960,202 980,200 1000,202 1020,208 1030,195 1005,170 1016,175 1025,172 1060,215 1063,226 1075,228 1092,195 1046,190 1130,268 1060,250 1071,247 1082,249 1090,255
1136,92 1250,182 1290,170 1292,190 1300,195 1238,205 1258,243 1340,205 1360,205 1375,219 1364,195 1415,137 1368,140 1375,138 1395,128 1447,225 1455,235 1462,238 1433,250 1440,275 1408,262 1372,262 1360,272 1358,290 1378,272 1441,289 1443,310 1449,325 1383,340 1397,338 1405,338 1294,344 1310,270 1351,305 1352,311 1058,408 1068,408 1095,418 1232,435 1360,395 1370,395 1370,421 1373,440 1380,445 1395,452 1402,453 1415,459 1336,472 1352,472 1361,470 1394,480 1400,517 1395,527 1410,527 1374,565 1367,582 1372,608 1383,620 1391,615 1412,617 1505,543 1490,560 1473,562 1492,574 1472,586 1497,605 1372,637 1354,640 1386,665 1381,665 1410,662 1420,663 1435,656 1300,640 1279,624 1263,624 1322,616 1314,600 1295,592
1450,220 1476,215 1486,222 1456,207
160,516 170,498 150,520 110,555 112,565 104,574 135,565 130,568 143,580 169,577 187,575 168,590 183,595 165,610 106,599 115,600 87,617 104,615 93,612 151,631 93,649 113,650 136,651 145,648 124,667 78,680 88,680 78,704 69,714 107,728 187,556 190,534 202,552 196,567
235,495 247,492 252,497 270,505 286,510 275,505 293,510 251,530 302,535 290,545 320,520 325,530 303,560 285,570 263,575 272,560 296,540 380,500 392,505 405,510 385,525 410,520 395,540 399,572 421,565 440,550 454,527 445,590 447,612 450,618 461,605 463,616 430,647 395,652 392,668 405,668 470,518 473,505 507,483 507,499 560,530 503,591 565,612 519,626 531,639 605,629 757,635 535,677 798,683 865,650 940,642 298,405 305,408 292,411 319,404 335,404 340,407 333,423 318,422 328,427 339,426
430,369 435,377 455,365 432,372 498,375 517,377 506,395 517,395 525,395 530,385 550,380 569,388 595,400 618,363 653,360 670,350 558,380 550,340 528,317 492,318 463,302 403,282 518,277 513,246 540,290 443,260 440,235 502,292 478,264`);
Ring(`670,212 679,212 668,198 665,207 1014,218 1040,212 1049,212 1058,212 1068,215 1078,227 1085,235 1066,236 1076,238 1222,112 1148,111 1260,192 1362,253 1376,254 1442,275 1446,290 1378,322 1402,527 1473,574 1412,667 1390,666 1300,622 172,617 155,509 79,680 234,495 252,486 268,504 1062,195 955,207 978,207 1095,205 437,380 484,640 500,641 563,587 535,677`);
A.innerHTML=S;
</script>
</body></html>
